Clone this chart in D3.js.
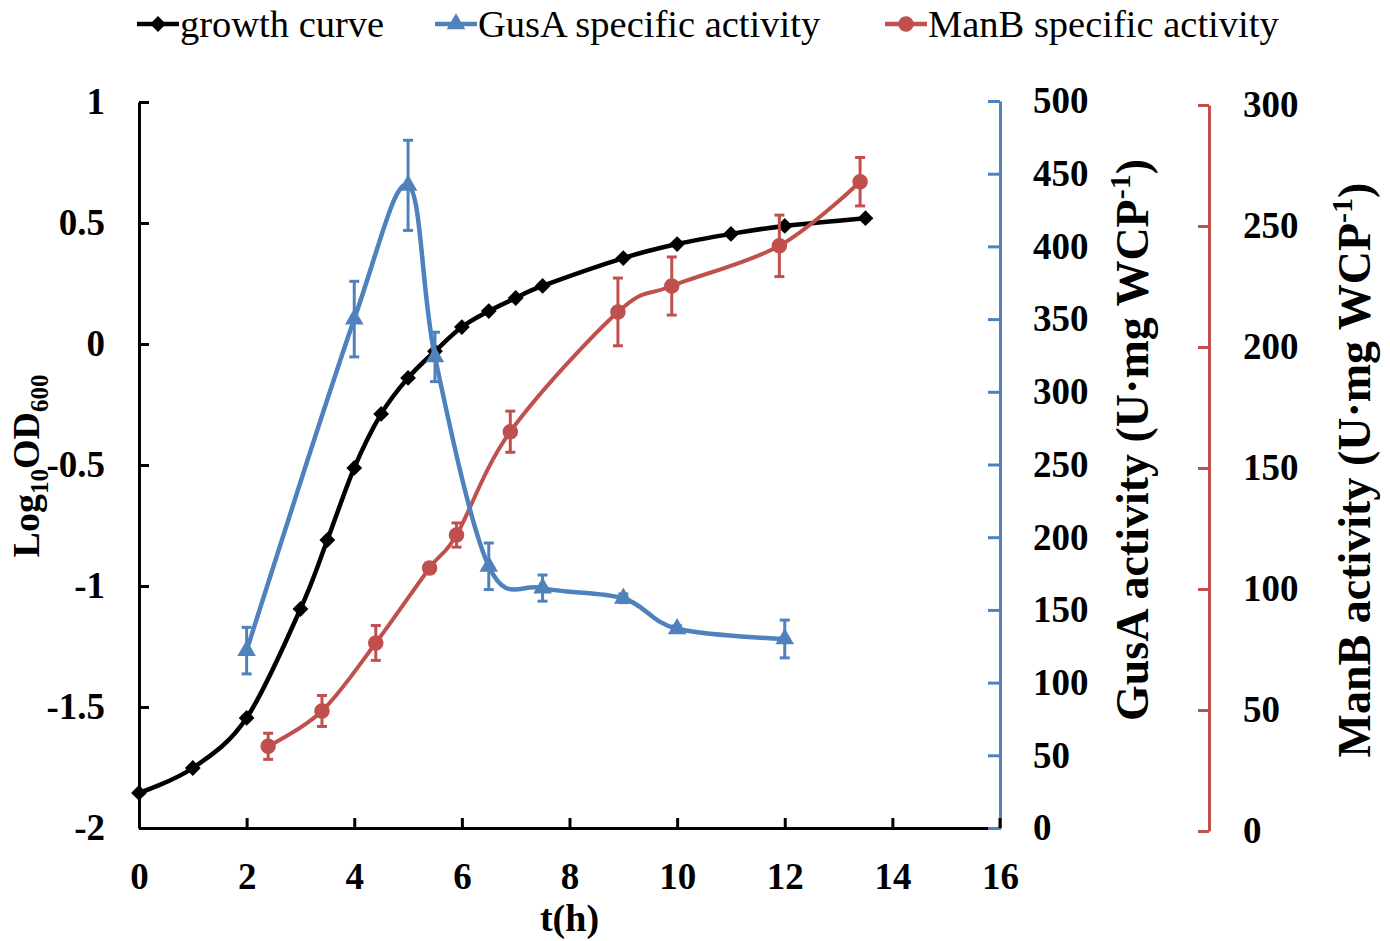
<!DOCTYPE html>
<html lang="en">
<head>
<meta charset="UTF-8">
<title>Growth curve and enzyme activity</title>
<style>
    body { margin: 0; background: #fff; }
    svg text { font-family: "Times New Roman", "Liberation Serif", serif; fill: #000; }
    .tick text { font-size: 37px; font-weight: bold; }
    .title { font-size: 46px; font-weight: bold; }
    .legend text { font-size: 38.5px; }
</style>
</head>
<body>
<svg width="1390" height="941"></svg>
<script src="https://cdn.jsdelivr.net/npm/d3@7"></script>
<script>
    // growth curve (log10 OD600)
    const growthT = [0, 1, 2, 3, 3.5, 4, 4.5, 5, 5.5, 6, 6.5, 7, 7.5, 9, 10, 11, 12, 13.5];
    const growthLog = [-1.855, -1.752, -1.545, -1.095, -0.81, -0.512, -0.289, -0.14, -0.03, 0.07,
                       0.136, 0.19, 0.24, 0.355, 0.413, 0.455, 0.488, 0.52];

    // GusA specific activity
    const gusT = [2, 4, 5, 5.5, 6.5, 7.5, 9, 10, 12];
    const gusVal = [122, 350, 442, 324, 180, 165, 158, 137, 130];
    const gusErr = [16, 26, 31, 17, 16, 9, 3, 2, 13];

    // ManB specific activity
    const manT = [2.4, 3.4, 4.4, 5.4, 5.9, 6.9, 8.9, 9.9, 11.9, 13.4];
    const manVal = [35, 49.6, 77.7, 108.7, 122.3, 165, 214.5, 225.2, 241.8, 268.3];
    const manErr = [5.4, 6.4, 7.2, 2, 5, 8.5, 14, 12, 12.7, 10];

    const xTicks = [0, 2, 4, 6, 8, 10, 12, 14, 16];
    const leftTicks = [-2, -1.5, -1, -0.5, 0, 0.5, 1];
    const gusTicks = [0, 50, 100, 150, 200, 250, 300, 350, 400, 450, 500];
    const manTicks = [0, 50, 100, 150, 200, 250, 300];

    const legendNames = ["growth curve", "GusA specific activity", "ManB specific activity"];

    const black = "#000", blue = "#4F81BD", red = "#C0504D";

    const svg = d3.select("svg");

    const x = d3.scaleLinear().domain([0, 16]).range([139, 1000]);
    const yL = d3.scaleLinear().domain([-2, 1]).range([828, 102]);
    const yG = d3.scaleLinear().domain([0, 500]).range([828, 101]);
    const yM = d3.scaleLinear().domain([0, 300]).range([831, 105]);

    function styleAxis(g, color) {
        g.selectAll("path.domain").attr("stroke", color).attr("stroke-width", 3);
        g.selectAll(".tick line").attr("stroke", color).attr("stroke-width", 3);
        g.selectAll(".tick text").attr("fill", "#000");
        g.attr("font-family", null).attr("font-size", null);
    }

    // x axis
    const gx = svg.append("g")
        .attr("transform", "translate(0,828)")
        .call(d3.axisBottom(x).tickValues(xTicks).tickFormat(d3.format("d"))
            .tickSizeInner(-10).tickSizeOuter(0).tickPadding(35));
    styleAxis(gx, black);

    // left axis
    const gl = svg.append("g")
        .attr("transform", "translate(139,0)")
        .call(d3.axisLeft(yL).tickValues(leftTicks).tickFormat(d => String(d))
            .tickSizeInner(-10).tickSizeOuter(0).tickPadding(34));
    styleAxis(gl, black);

    // GusA axis
    const gg = svg.append("g")
        .attr("transform", "translate(1000,0)")
        .call(d3.axisRight(yG).tickValues(gusTicks)
            .tickSizeInner(-12).tickSizeOuter(0).tickPadding(33));
    styleAxis(gg, blue);

    // ManB axis
    const gm = svg.append("g")
        .attr("transform", "translate(1209,0)")
        .call(d3.axisRight(yM).tickValues(manTicks)
            .tickSizeInner(-11).tickSizeOuter(0).tickPadding(34));
    styleAxis(gm, red);

    // black corner tick at x=16 drawn over blue axis bottom
    svg.append("line")
        .attr("x1", x(16)).attr("x2", x(16))
        .attr("y1", 828).attr("y2", 818)
        .attr("stroke", black).attr("stroke-width", 3);

    // axis titles
    svg.append("text").attr("class", "title")
        .attr("x", x(8)).attr("y", 931)
        .attr("text-anchor", "middle")
        .style("font-size", "38px")
        .text("t(h)");

    const lt = svg.append("text").attr("class", "title")
        .attr("transform", "translate(39,466) rotate(-90)")
        .attr("text-anchor", "middle")
        .style("font-size", "38px");
    lt.append("tspan").text("Log");
    lt.append("tspan").attr("dy", 9).style("font-size", "25px").text("10");
    lt.append("tspan").attr("dy", -9).text("OD");
    lt.append("tspan").attr("dy", 9).style("font-size", "25px").text("600");

    function activityTitle(cx, cy, name) {
        const t = svg.append("text").attr("class", "title")
            .attr("transform", `translate(${cx},${cy}) rotate(-90)`)
            .attr("text-anchor", "middle");
        t.append("tspan").text(name + " activity (U\u00B7mg WCP");
        t.append("tspan").attr("dy", -18).style("font-size", "30px").text("-1");
        t.append("tspan").attr("dy", 18).text(")");
    }
    activityTitle(1148, 440, "GusA");
    activityTitle(1370, 470, "ManB");

    // series
    const curve = d3.curveCardinal.tension(0);

    function drawSeries(ts, vals, errs, yScale, color, width, symbol, size, rot) {
        const g = svg.append("g");
        const pts = ts.map((t, i) => [x(t), yScale(vals[i])]);
        g.append("path")
            .attr("d", d3.line().curve(curve)(pts))
            .attr("fill", "none")
            .attr("stroke", color)
            .attr("stroke-width", width);
        if (errs) {
            ts.forEach((t, i) => {
                const cx = x(t), y1 = yScale(vals[i] + errs[i]), y2 = yScale(vals[i] - errs[i]);
                const eb = g.append("g").attr("stroke", color).attr("stroke-width", 3);
                eb.append("line").attr("x1", cx).attr("x2", cx).attr("y1", y1).attr("y2", y2);
                eb.append("line").attr("x1", cx - 5).attr("x2", cx + 5).attr("y1", y1).attr("y2", y1);
                eb.append("line").attr("x1", cx - 5).attr("x2", cx + 5).attr("y1", y2).attr("y2", y2);
            });
        }
        g.selectAll("path.mark")
            .data(pts)
            .enter()
            .append("path")
            .attr("class", "mark")
            .attr("d", d3.symbol().type(symbol).size(size))
            .attr("transform", d => `translate(${d[0]},${d[1]}) rotate(${rot})`)
            .attr("fill", color);
    }

    drawSeries(growthT, growthLog, null, yL, black, 4.5, d3.symbolSquare, 125, 45);
    drawSeries(manT, manVal, manErr, yM, red, 4, d3.symbolCircle, 190, 0);
    drawSeries(gusT, gusVal, gusErr, yG, blue, 4.5, d3.symbolTriangle, 150, 0);

    // legend
    const legendX = [137, 435, 885];
    const legendColor = [black, blue, red];
    const legendSym = [[d3.symbolSquare, 125, 45], [d3.symbolTriangle, 150, 0], [d3.symbolCircle, 190, 0]];
    const lg = svg.append("g").attr("class", "legend");
    legendNames.forEach((name, i) => {
        const lx = legendX[i];
        lg.append("line")
            .attr("x1", lx).attr("x2", lx + 42)
            .attr("y1", 24).attr("y2", 24)
            .attr("stroke", legendColor[i]).attr("stroke-width", 4.5);
        lg.append("path")
            .attr("d", d3.symbol().type(legendSym[i][0]).size(legendSym[i][1]))
            .attr("transform", `translate(${lx + 21},24) rotate(${legendSym[i][2]})`)
            .attr("fill", legendColor[i]);
        lg.append("text")
            .attr("x", lx + 43).attr("y", 37)
            .text(name);
    });
</script>
</body>
</html>
